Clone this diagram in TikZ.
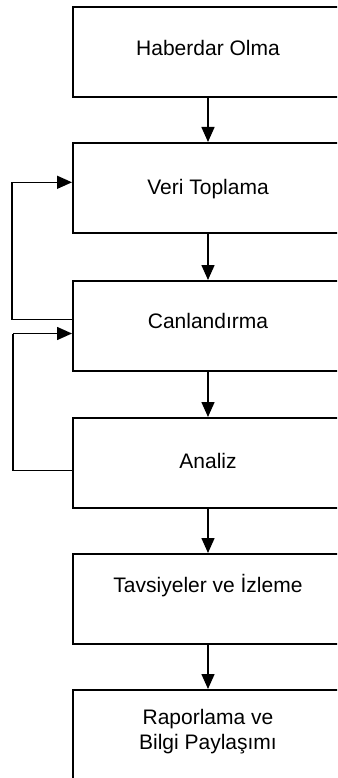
\documentclass[tikz,border=0pt]{standalone}
\usepackage{fontspec}
\setmainfont{Liberation Sans}
\usetikzlibrary{arrows.meta}
\begin{document}
\begin{tikzpicture}[x=1pt,y=-1pt,
  stage/.style={draw=black,line width=2pt,minimum width=272pt,minimum height=90pt,
    anchor=north west,inner sep=0pt},
  lbl/.style={anchor=base,inner sep=0pt,font=\fontsize{21}{25}\selectfont,align=center},
  flow/.style={line width=1.5pt,-{Triangle[width=13pt,length=15pt]}},
  back/.style={line width=1.5pt}]
\useasboundingbox (0,0) rectangle (337,778);
\clip (0,0) rectangle (337,778);

% process stages
\node[stage] (s1) at (72,6) {};
\node[stage] (s2) at (72,142) {};
\node[stage] (s3) at (72,280) {};
\node[stage] (s4) at (72,417) {};
\node[stage] (s5) at (72,553) {};
\node[stage] (s6) at (72,689) {};

% stage titles
\node[lbl] (t1) at (208,55.3) {Haberdar Olma};
\node[lbl] (t2) at (208,194) {Veri Toplama};
\node[lbl] (t3) at (208,328) {Canlandırma};
\node[lbl] (t4) at (208,468) {Analiz};
\node[lbl] (t5) at (208,592.5) {Tavsiyeler ve İzleme};
\node[lbl] (t6a) at (208,724) {Raporlama ve};
\node[lbl] (t6b) at (208,749) {Bilgi Paylaşımı};

% main flow
\draw[flow] (s1.south -| t1.base) -- (s2.north -| t1.base);
\draw[flow] (s2.south -| t1.base) -- (s3.north -| t1.base);
\draw[flow] (s3.south -| t1.base) -- (s4.north -| t1.base);
\draw[flow] (s4.south -| t1.base) -- (s5.north -| t1.base);
\draw[flow] (s5.south -| t1.base) -- (s6.north -| t1.base);

% feedback loops on the left
\coordinate (c1) at (12,319.5);
\coordinate (c2) at (12,182.3);
\coordinate (c3) at (13,470.7);
\coordinate (c4) at (13,333.5);
\draw[back] (s3.west |- c1) -- (c1) -- (c2);
\draw[flow] (c2) -- (s2.west |- c2);
\draw[back] (s4.west |- c3) -- (c3) -- (c4);
\draw[flow] (c4) -- (s3.west |- c4);
\end{tikzpicture}
\end{document}
